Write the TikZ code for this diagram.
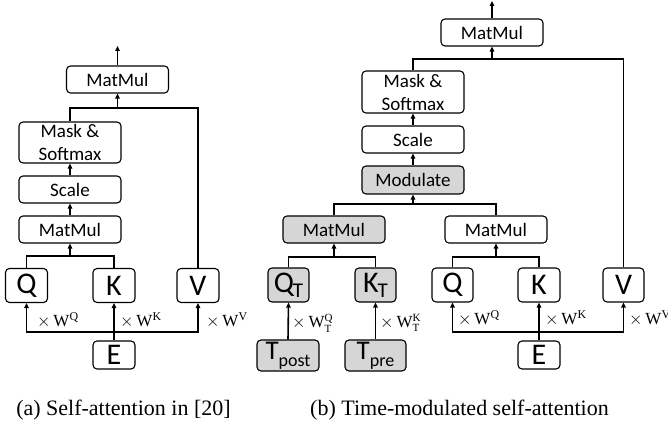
\documentclass[tikz,border=0pt]{standalone}
\usepackage{fontspec}
\setmainfont{Carlito}
\newfontfamily\serif{Liberation Serif}
\usetikzlibrary{arrows.meta}
\newcommand{\wlab}[1]{$\times$\,W\textsuperscript{#1}}
\newcommand{\wtlab}[1]{$\times\,\hbox{\serif W}^{\hbox{\serif\fontsize{11}{11}\selectfont #1}}_{\hbox{\serif\fontsize{11}{11}\selectfont T}}$}
\begin{document}
\begin{tikzpicture}[x=1pt,y=-1pt,
 box/.style={draw, rounded corners=4pt, line width=1.1pt, inner sep=0pt, align=center, font=\fontsize{19}{23}\selectfont},
 big/.style={box, minimum width=42pt, minimum height=34pt, font=\fontsize{30}{30}\selectfont},
 wide/.style={box, minimum width=102pt, minimum height=27pt},
 shade/.style={fill=black!16},
 conn/.style={line width=1.6pt},
 arr/.style={conn, -{Triangle[length=5pt,width=4.5pt]}},
 lab/.style={anchor=west, inner sep=0pt, font=\serif\fontsize{17}{17}\selectfont},
 captext/.style={inner sep=0pt, font=\serif\fontsize{22}{22}\selectfont}]
\useasboundingbox (0,0) rectangle (668,430);

% ---------- (a) ----------
\node[wide] (mmA) at (117.5,79.5) {MatMul};
\node[wide, minimum height=41pt] (msA) at (70,142.5) {Mask \&\\Softmax};
\node[wide] (scA) at (70,189.5) {Scale};
\node[wide] (mm2A) at (70,229.5) {MatMul};
\node[big] (qA) at (26.5,285.5) {Q};
\node[big] (kA) at (114,285.5) {K};
\node[big] (vA) at (198,285.5) {V};
\node[big, minimum height=28pt] (eA) at (114,355) {E};

\coordinate (oA) at (117.5,46);
\coordinate (jA) at (117.5,108);
\coordinate (bA) at (70,256);
\coordinate (hA) at (114,332);

\draw[arr] (mmA.north) -- (oA);
\draw[conn] (msA.north) |- (jA) -| (vA.north);
\draw[arr] (jA) -- (mmA.south);
\draw[arr] (scA.north) -- (msA.south);
\draw[arr] (mm2A.north) -- (scA.south);
\draw[conn] (qA.north) |- (bA) -| (kA.north);
\draw[arr] (bA) -- (mm2A.south);
\draw[conn] (eA.north) -- (hA);
\draw[arr] (hA) -| (qA.south);
\draw[arr] (hA) -- (kA.south);
\draw[arr] (hA) -| (vA.south);

\node[lab] (lqA) at (37,320) {\wlab{Q}};
\node[lab] (lkA) at (120,320) {\wlab{K}};
\node[lab] (lvA) at (206,320) {\wlab{V}};

\node[captext] (capA) at (123.5,410) {(a) Self-attention in [20]};

% ---------- (b) ----------
\node[wide] (mmB) at (492,32.5) {MatMul};
\node[wide, minimum height=42pt] (msB) at (413,92) {Mask \&\\Softmax};
\node[wide] (scB) at (413,139.5) {Scale};
\node[wide, shade, minimum height=28pt] (modB) at (413,180) {Modulate};
\node[wide, shade] (gmm) at (334,229.5) {MatMul};
\node[wide] (wmm) at (496,229.5) {MatMul};
\node[big, shade, minimum width=41pt] (qT) at (288.5,285) {Q\kern-1pt\raisebox{-5pt}{\fontsize{21}{21}\selectfont T}};
\node[big, shade, minimum width=41pt] (kT) at (375.5,285) {K\kern-1pt\raisebox{-5pt}{\fontsize{21}{21}\selectfont T}};
\node[big, shade, minimum width=62pt, minimum height=31pt, font=\fontsize{27}{27}\selectfont] (tpost) at (288,355.5) {T\raisebox{-7pt}{\fontsize{18}{18}\selectfont post}};
\node[big, shade, minimum width=61pt, minimum height=31pt, font=\fontsize{27}{27}\selectfont] (tpre) at (375.5,355.5) {T\raisebox{-7pt}{\fontsize{18}{18}\selectfont pre}};
\node[big, minimum width=41pt] (qB) at (452.5,285) {Q};
\node[big] (kB) at (539,285) {K};
\node[big, minimum width=41pt] (vB) at (623.5,285) {V};
\node[big, minimum height=28pt] (eB) at (539,355) {E};

\coordinate (oB) at (492,1);
\coordinate (jB) at (492,59);
\coordinate (bB) at (413,204);
\coordinate (gB) at (334,257);
\coordinate (wB) at (496,257);
\coordinate (hB) at (539,332);

\draw[arr] (mmB.north) -- (oB);
\draw[conn] (msB.north) |- (jB) -| (vB.north);
\draw[arr] (jB) -- (mmB.south);
\draw[arr] (scB.north) -- (msB.south);
\draw[arr] (modB.north) -- (scB.south);
\draw[conn] (gmm.north) |- (bB) -| (wmm.north);
\draw[arr] (bB) -- (modB.south);
\draw[conn] (qT.north) |- (gB) -| (kT.north);
\draw[arr] (gB) -- (gmm.south);
\draw[conn] (qB.north) |- (wB) -| (kB.north);
\draw[arr] (wB) -- (wmm.south);
\draw[arr] (tpost.north) -- (qT.south);
\draw[arr] (tpre.north) -- (kT.south);
\draw[conn] (eB.north) -- (hB);
\draw[arr] (hB) -| (qB.south);
\draw[arr] (hB) -- (kB.south);
\draw[arr] (hB) -| (vB.south);

\node[lab] (lqT) at (292,323) {\wtlab{Q}};
\node[lab] (lkT) at (380,323) {\wtlab{K}};
\node[lab] (lqB) at (458,318) {\wlab{Q}};
\node[lab] (lkB) at (545,318) {\wlab{K}};
\node[lab] (lvB) at (629,318) {\wlab{V}};

\node[captext] (capB) at (459.5,410) {(b) Time-modulated self-attention};
\end{tikzpicture}
\end{document}
